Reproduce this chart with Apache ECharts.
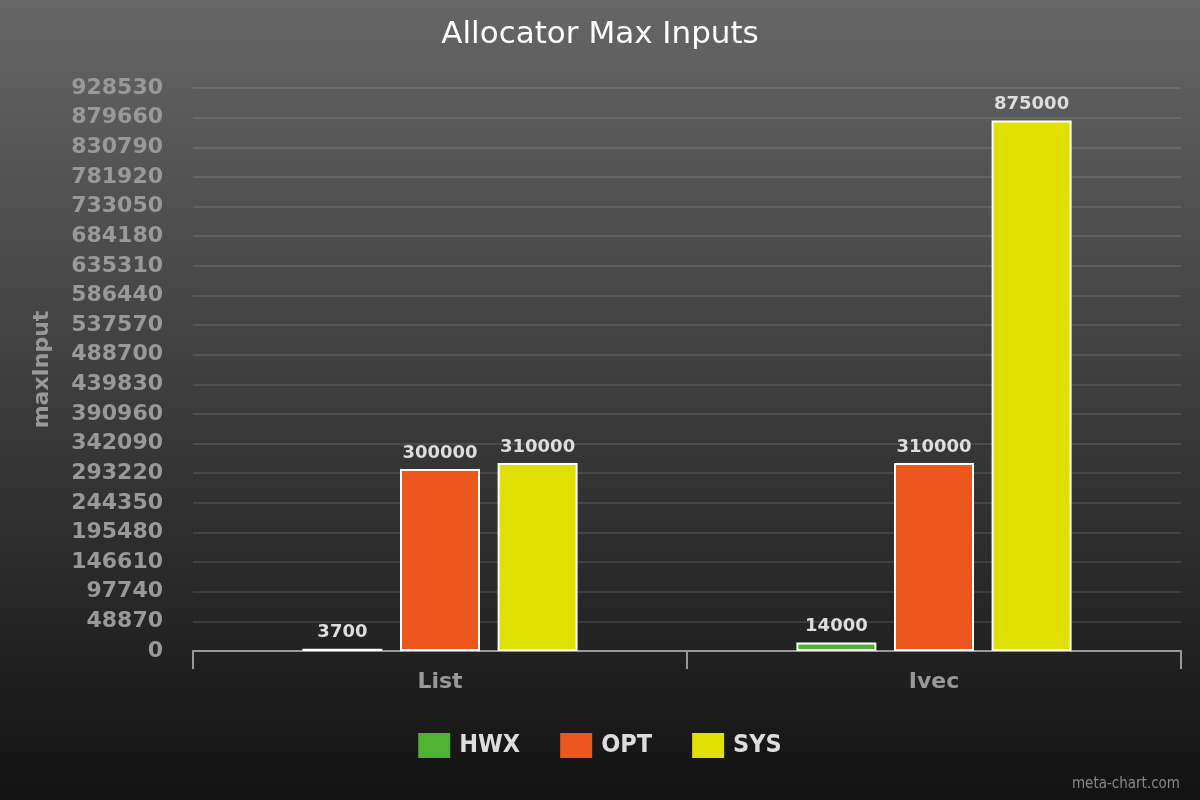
<!DOCTYPE html>
<html>
<head>
<meta charset="utf-8">
<script src="https://cdn.jsdelivr.net/npm/echarts@6/dist/echarts.min.js"></script>
<style>html,body{margin:0;padding:0;}#c{width:1200px;height:800px;}</style>
</head>
<body>
<div id="c"></div>
<script>
const categories = ['List', 'Ivec'];
const seriesNames = ['HWX', 'OPT', 'SYS'];
const hwxValues = [3700, 14000];
const optValues = [300000, 310000];
const sysValues = [310000, 875000];
const seriesColors = ['#4eb233', '#eb561c', '#dfe000'];
const yMin = 0, yMax = 928530, yInterval = 48870;

const chart = echarts.init(document.getElementById('c'));
const valueSets = [hwxValues, optValues, sysValues];
const series = seriesNames.map((name, i) => ({
  name: name,
  type: 'bar',
  data: valueSets[i],
  barWidth: 80,
  barGap: '22%',
  itemStyle: { color: seriesColors[i], borderColor: '#ffffff', borderWidth: 2 },
  label: {
    show: true, position: 'top', distance: 7,
    color: '#dddddd', fontFamily: 'DejaVu Sans', fontWeight: 'bold', fontSize: 18
  }
}));

chart.setOption({
  backgroundColor: {
    type: 'linear', x: 0, y: 0, x2: 0, y2: 1,
    colorStops: [{ offset: 0, color: '#666666' }, { offset: 1, color: '#121212' }]
  },
  animation: false,
  title: {
    text: 'Allocator Max Inputs', left: 'center', top: 14,
    textStyle: { color: '#ffffff', fontFamily: 'DejaVu Sans', fontWeight: 'normal', fontSize: 31 }
  },
  grid: { left: 193, right: 19, top: 88, bottom: 149, containLabel: false },
  legend: {
    bottom: 37, left: 'center',
    itemWidth: 32, itemHeight: 25, itemGap: 40,
    icon: 'rect',
    itemStyle: { borderWidth: 0 },
    textStyle: { color: '#dddddd', fontFamily: 'DejaVu Sans Condensed', fontWeight: 'bold', fontSize: 25, padding: [0, 0, 0, 4] },
    data: seriesNames
  },
  xAxis: {
    type: 'category', data: categories,
    axisLine: { lineStyle: { color: '#999999', width: 2 } },
    axisTick: { show: true, length: 18, lineStyle: { color: '#999999', width: 2 } },
    axisLabel: { color: '#999999', fontFamily: 'DejaVu Sans', fontWeight: 'bold', fontSize: 22, margin: 20 }
  },
  yAxis: {
    type: 'value', min: yMin, max: yMax, interval: yInterval,
    name: 'maxInput', nameLocation: 'middle', nameGap: 140,
    nameTextStyle: { color: '#999999', fontFamily: 'DejaVu Sans', fontWeight: 'bold', fontSize: 22 },
    axisLine: { show: false }, axisTick: { show: false },
    axisLabel: { color: '#999999', fontFamily: 'DejaVu Sans', fontWeight: 'bold', fontSize: 22, margin: 30,
      formatter: v => String(v) },
    splitLine: { lineStyle: { color: 'rgba(255,255,255,0.1)', width: 2 } }
  },
  graphic: [{
    type: 'text', right: 20, bottom: 8,
    style: { text: 'meta-chart.com', fill: '#888888', font: '15px "DejaVu Sans Condensed"' }
  }],
  series: series
});
</script>
</body>
</html>
